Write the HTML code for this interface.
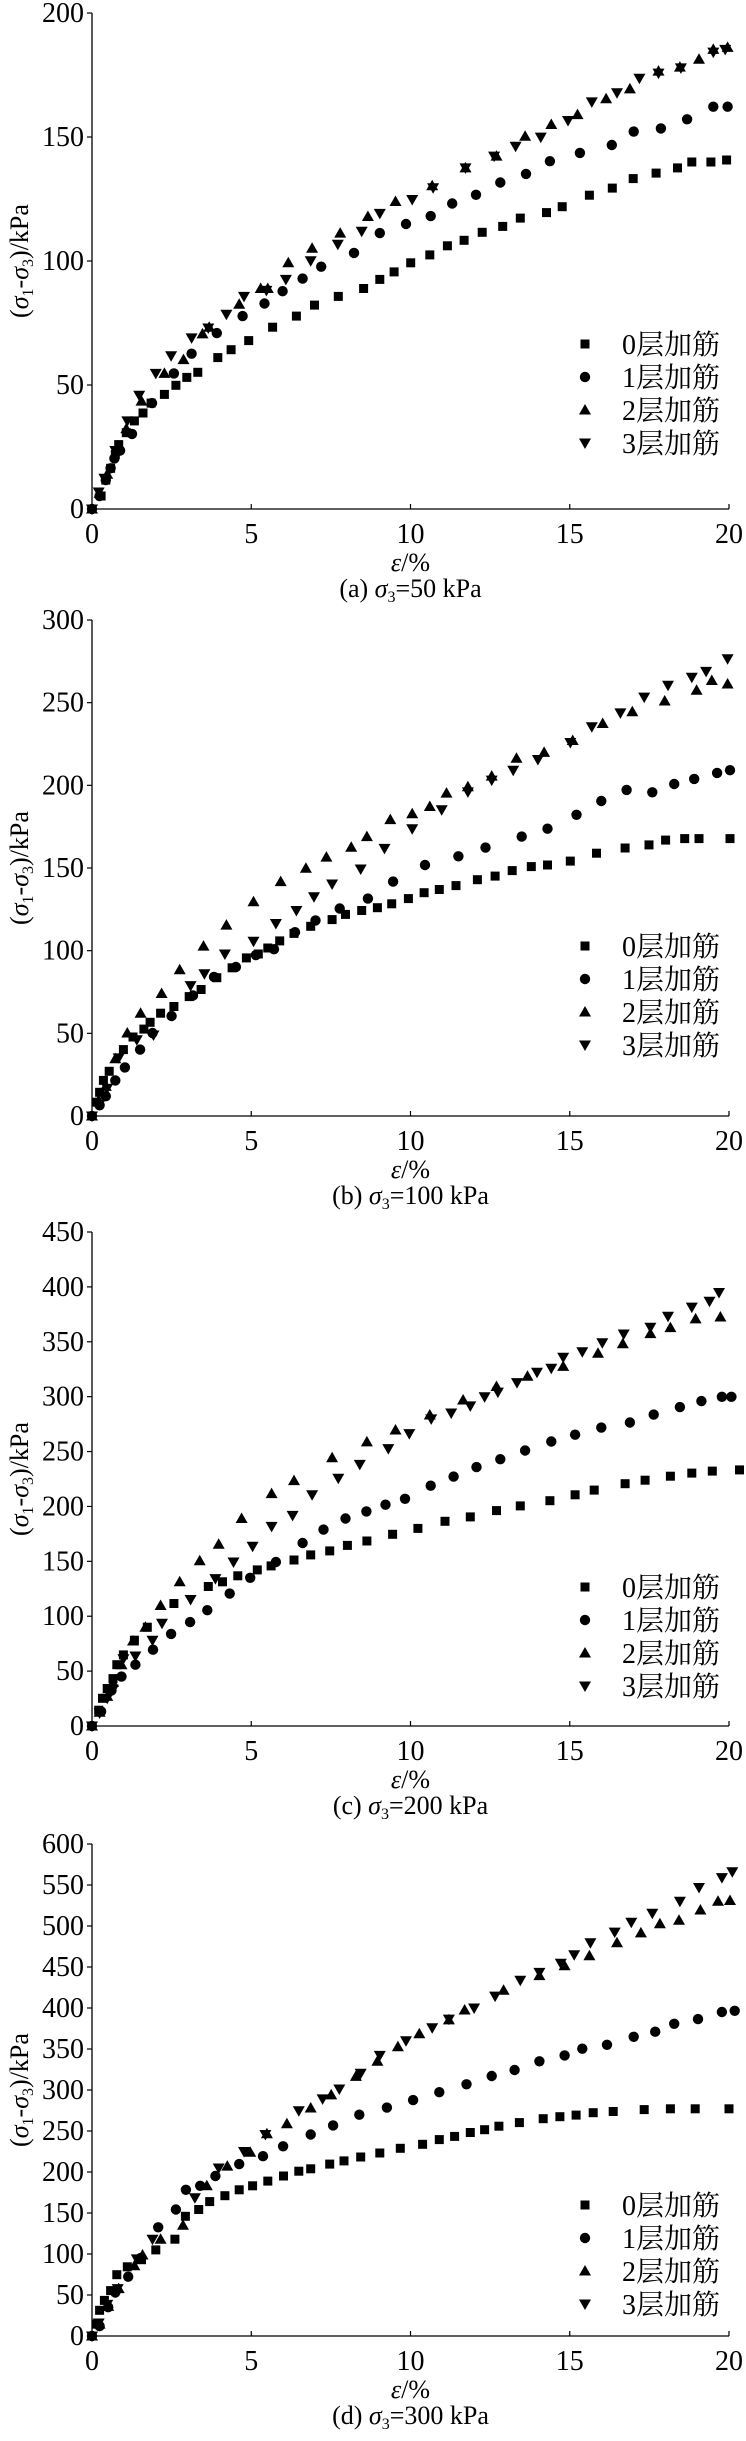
<!DOCTYPE html>
<html><head><meta charset="utf-8"><style>
html,body{margin:0;padding:0;background:#fff;}
svg{display:block;font-family:"Liberation Serif","Noto Serif CJK SC",serif;}
</style></head><body>
<svg id="s" width="746" height="2441" viewBox="0 0 746 2441" xmlns="http://www.w3.org/2000/svg"></svg>
<script>
const P=[
{top:13,bot:509,zt:33,z0:1288,max:200,step:50,cap:"(a) ",cv:"=50 kPa",leg:344,
 d:[
 [[196,1288],[215,1255],[225,1215],[235,1185],[245,1150],[252,1125],[268,1095],[285,1065],[303,1045],[320,1020],[348,998],[372,975],[395,955],[418,942],[460,905],[488,885],[525,862],[575,828],[625,800],[663,772],[713,750],[766,730],[800,707],[830,688],[865,665],[905,645],[942,622],[977,608],[1015,588],[1058,573],[1095,552],[1150,538],[1183,523],[1240,494],[1288,476],[1332,452],[1380,438],[1425,425],[1455,410],[1495,410],[1528,405]],
 [[196,1288],[212,1255],[225,1215],[235,1185],[243,1160],[255,1140],[280,1098],[322,1020],[368,945],[405,895],[458,843],[512,800],[558,768],[596,737],[638,705],[677,675],[746,640],[800,590],[855,567],[907,547],[952,515],[1002,493],[1053,462],[1107,440],[1157,408],[1220,387],[1287,367],[1333,333],[1390,325],[1445,302],[1500,270],[1530,270]],
 [[196,1288],[212,1248],[228,1200],[248,1140],[268,1085],[300,1015],[348,945],[388,910],[428,845],[442,828],[505,770],[550,730],[565,730],[608,665],[658,628],[717,590],[775,548],[833,510],[910,470],[980,425],[1045,395],[1105,345],[1160,315],[1215,290],[1275,250],[1325,225],[1385,180],[1430,170],[1470,150],[1500,125],[1530,120]],
 [[196,1288],[210,1245],[222,1210],[245,1140],[270,1065],[295,1000],[330,945],[362,900],[405,855],[440,830],[478,795],[515,750],[562,735],[603,707],[655,660],[712,618],[762,585],[800,540],[868,505],[912,475],[980,425],[1040,395],[1085,370],[1138,347],[1195,305],[1245,258],[1298,235],[1345,198],[1385,185],[1432,172],[1500,132],[1525,125]]]},
{top:620,bot:1116,zt:50,z0:1305,max:300,step:50,cap:"(b) ",cv:"=100 kPa",leg:946,
 d:[
 [[196,1305],[205,1270],[212,1245],[220,1215],[232,1192],[262,1137],[282,1105],[305,1085],[318,1068],[340,1045],[368,1028],[400,1003],[425,985],[458,955],[490,930],[520,905],[545,895],[565,880],[590,862],[620,843],[655,825],[700,808],[728,795],[762,785],[795,778],[825,768],[860,755],[893,740],[925,732],[960,722],[1005,707],[1042,698],[1078,684],[1118,674],[1152,670],[1200,660],[1255,640],[1315,627],[1365,619],[1400,607],[1440,603],[1470,603],[1535,603]],
 [[196,1305],[212,1278],[225,1255],[245,1215],[265,1182],[297,1137],[323,1095],[363,1052],[408,1000],[452,953],[498,928],[540,898],[578,883],[622,840],[665,810],[716,780],[775,755],[828,712],[895,670],[965,648],[1022,626],[1098,598],[1152,578],[1213,543],[1265,508],[1318,480],[1372,486],[1418,465],[1460,452],[1508,437],[1535,430]],
 [[196,1305],[210,1265],[225,1230],[245,1160],[270,1095],[298,1045],[342,995],[380,935],[430,875],[478,822],[535,763],[592,712],[645,678],[688,650],[740,625],[773,598],[822,555],[868,540],[905,522],[940,488],[985,472],[1035,445],[1087,400],[1145,385],[1205,355],[1268,312],[1330,282],[1398,255],[1465,228],[1497,203],[1530,212]],
 [[196,1305],[212,1275],[228,1235],[252,1158],[290,1112],[325,1100],[403,975],[432,945],[475,895],[535,863],[582,818],[625,785],[662,750],[700,718],[760,680],[810,628],[868,578],[930,530],[985,485],[1035,455],[1080,430],[1132,403],[1200,360],[1245,320],[1305,285],[1355,245],[1405,215],[1455,195],[1485,180],[1530,148]]]},
{top:1232,bot:1726,zt:55,z0:1305,max:450,step:50,cap:"(c) ",cv:"=200 kPa",leg:1587,
 d:[
 [[196,1305],[210,1265],[218,1235],[228,1210],[240,1185],[248,1150],[262,1125],[285,1088],[312,1055],[368,995],[440,952],[470,940],[502,925],[543,910],[572,900],[620,885],[655,872],[695,862],[732,848],[773,837],[827,820],[880,805],[937,787],[990,776],[1045,760],[1095,748],[1157,735],[1210,720],[1250,708],[1315,692],[1357,683],[1410,673],[1455,665],[1498,660],[1555,657]],
 [[196,1305],[215,1268],[237,1215],[258,1180],[287,1150],[324,1112],[362,1072],[402,1042],[438,1012],[485,970],[528,930],[582,890],[638,842],[682,808],[728,780],[772,762],[812,745],[853,730],[907,697],[955,674],[1003,650],[1053,630],[1105,608],[1160,585],[1210,568],[1265,550],[1325,537],[1375,517],[1430,498],[1475,483],[1518,472],[1538,472]],
 [[196,1305],[212,1270],[228,1230],[240,1195],[258,1150],[282,1090],[308,1055],[340,1000],[380,940],[422,887],[462,845],[510,780],[573,717],[620,684],[700,626],[773,586],[833,556],[905,518],[975,480],[1045,446],[1110,420],[1185,395],[1258,362],[1310,338],[1368,312],[1410,297],[1463,275],[1515,270]],
 [[196,1305],[212,1272],[228,1235],[240,1212],[262,1135],[287,1128],[323,1088],[343,1045],[403,985],[455,932],[493,890],[533,850],[573,800],[617,772],[658,720],[713,678],[758,643],[818,603],[862,565],[908,528],[950,513],[990,495],[1020,472],[1048,460],[1088,436],[1130,410],[1160,400],[1185,372],[1225,358],[1267,335],[1312,313],[1368,296],[1405,268],[1455,245],[1492,230],[1512,208]]]},
{top:1844,bot:2336,zt:60,z0:1305,max:600,step:50,cap:"(d) ",cv:"=300 kPa",leg:2205,
 d:[
 [[196,1305],[205,1275],[212,1240],[222,1215],[235,1190],[248,1150],[270,1130],[300,1112],[330,1087],[370,1060],[392,1002],[420,985],[443,965],[475,950],[505,935],[533,925],[565,913],[598,900],[630,888],[655,882],[695,870],[725,862],[760,852],[800,842],[843,830],[890,820],[925,808],[957,800],[990,790],[1020,783],[1050,774],[1093,765],[1143,755],[1178,750],[1212,746],[1248,740],[1290,737],[1355,732],[1410,730],[1462,730],[1533,730]],
 [[196,1305],[212,1280],[230,1232],[245,1195],[272,1155],[298,1108],[335,1030],[372,985],[393,935],[423,925],[455,900],[505,870],[555,850],[597,825],[655,795],[702,772],[757,745],[815,727],[870,708],[925,688],[982,668],[1035,647],[1083,632],[1135,610],[1188,595],[1225,578],[1277,568],[1333,548],[1378,535],[1418,515],[1468,503],[1518,485],[1545,482]],
 [[196,1305],[212,1275],[230,1230],[252,1185],[285,1127],[302,1100],[340,1060],[387,1025],[437,925],[480,875],[528,840],[563,793],[605,768],[655,728],[698,695],[750,648],[795,610],[838,573],[883,540],[945,505],[978,480],[1060,430],[1135,393],[1188,368],[1240,343],[1298,310],[1348,285],[1388,262],[1428,253],[1473,227],[1510,205],[1535,203]],
 [[196,1305],[210,1272],[228,1225],[250,1185],[290,1110],[323,1060],[412,955],[462,880],[515,838],[560,795],[630,735],[680,705],[715,680],[760,640],[800,595],[855,558],[910,525],[945,503],[998,475],[1042,445],[1095,405],[1135,385],[1180,362],[1208,340],[1242,310],[1293,283],[1328,258],[1372,235],[1430,205],[1470,170],[1518,145],[1540,130]]]}
];
const X0=92,X1=729;
function mk(t,x,y){
 x=Math.round(x*10)/10; y=Math.round(y*10)/10;
 if(t==0)return `<rect x="${x-4.5}" y="${y-4.5}" width="9" height="9"/>`;
 if(t==1)return `<circle cx="${x}" cy="${y}" r="5.2"/>`;
 if(t==2)return `<path d="M${x} ${y-6}L${x+6} ${y+4.5}L${x-6} ${y+4.5}Z"/>`;
 return `<path d="M${x} ${y+6}L${x+6} ${y-4.5}L${x-6} ${y-4.5}Z"/>`;
}
let h='';
const names=["0层加筋","1层加筋","2层加筋","3层加筋"];
for(const p of P){
 const H=p.bot-p.top;
 h+=`<path d="M${X0} ${p.top}V${p.bot}H${X1}" fill="none" stroke="#000" stroke-width="1.3"/>`;
 for(let v=0;v<=p.max;v+=p.step){
  const y=p.bot-v/p.max*H;
  h+=`<line x1="${X0-5}" y1="${y}" x2="${X0}" y2="${y}" stroke="#000" stroke-width="1.2"/>`;
  h+=`<text x="${X0-8}" y="${y+9}" font-size="28" text-anchor="end">${v}</text>`;
 }
 for(let v=0;v<=20;v+=5){
  const x=X0+v/20*(X1-X0);
  h+=`<line x1="${x}" y1="${p.bot}" x2="${x}" y2="${p.bot-5}" stroke="#000" stroke-width="1.2"/>`;
  h+=`<text x="${x}" y="${p.bot+34}" font-size="28" text-anchor="middle">${v}</text>`;
 }
 h+=`<text x="${(X0+X1)/2}" y="${p.bot+62}" font-size="26" text-anchor="middle"><tspan font-style="italic">ε</tspan>/%</text>`;
 h+=`<text x="${(X0+X1)/2}" y="${p.bot+88}" font-size="26" text-anchor="middle">${p.cap}<tspan font-style="italic">σ</tspan><tspan font-size="16" dy="5">3</tspan><tspan dy="-5">${p.cv}</tspan></text>`;
 const cy=(p.top+p.bot)/2;
 h+=`<text transform="translate(28 ${cy}) rotate(-90)" font-size="26" text-anchor="middle">(<tspan font-style="italic">σ</tspan><tspan font-size="16" dy="5">1</tspan><tspan dy="-5">-</tspan><tspan font-style="italic">σ</tspan><tspan font-size="16" dy="5">3</tspan><tspan dy="-5">)/kPa</tspan></text>`;
 h+='<g fill="#000">';
 p.d.forEach((s,t)=>{
  for(const [zx,zy] of s){
   const x=X0+(zx-196)/(1533-196)*(X1-X0);
   const y=p.top+(zy-p.zt)/(p.z0-p.zt)*H;
   h+=mk(t,x,y);
  }
 });
 for(let i=0;i<4;i++){
  const y=p.leg+i*33;
  h+=mk(i,585,y);
  h+=`<text x="622" y="${y+10}" font-size="28">${names[i]}</text>`;
 }
 h+='</g>';
}
document.getElementById('s').innerHTML=h;
</script>
</body></html>
